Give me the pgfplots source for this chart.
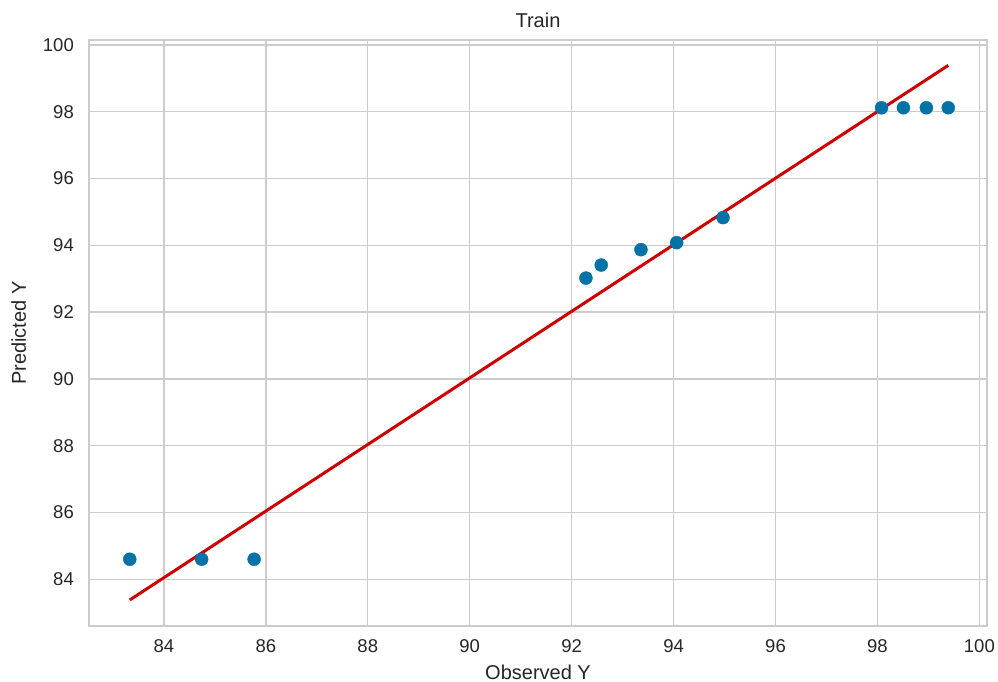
\documentclass[border=0pt]{standalone}
\usepackage{fontspec}
\setmainfont{Liberation Sans}
\usepackage{pgfplots}
\pgfplotsset{compat=1.18}
\definecolor{ptblue}{RGB}{0,114,165}
\definecolor{lnred}{RGB}{204,0,0}
\definecolor{gridgray}{RGB}{204,204,204}
\definecolor{txtgray}{RGB}{38,38,38}
\begin{document}
\begin{tikzpicture}
\begin{axis}[
  at={(0,0)}, anchor=south west,
  scale only axis, width=898pt, height=586pt,
  xmin=82.53, xmax=100.15, ymin=82.6, ymax=100.15,
  xtick={84,86,...,100}, ytick={84,86,...,100},
  grid=major,
  major grid style={gridgray, line width=1.4pt},
  axis line style={gridgray, line width=2.2pt},
  tick style={draw=none},
  ticklabel style={font=\fontsize{18.5}{22}\selectfont, text=txtgray},
  /pgf/number format/assume math mode=true,
  xticklabel style={anchor=base, yshift=-27pt},
  yticklabel style={anchor=east, inner sep=0pt, xshift=-15pt},
  title={Train},
  title style={font=\fontsize{20}{24}\selectfont, text=txtgray,
    at={(axis description cs:0.5,1)}, anchor=base, yshift=6pt},
  xlabel={Observed Y}, ylabel={Predicted Y},
  label style={font=\fontsize{20}{24}\selectfont, text=txtgray},
  xlabel style={at={(axis description cs:0.5,0)}, anchor=base, yshift=-53pt},
  ylabel style={at={(axis description cs:-0.0702,0.5)}, anchor=base},
]
\addplot[only marks, mark=*, mark size=6.5pt, mark options={fill=ptblue, draw=ptblue}] coordinates {
 (83.33,84.60) (84.74,84.60) (85.77,84.60)
 (92.28,93.02) (92.58,93.41) (93.36,93.87) (94.06,94.08) (94.97,94.83)
 (98.08,98.12) (98.51,98.12) (98.96,98.12) (99.39,98.12)
};
\addplot[lnred, line width=3pt] coordinates {(83.33,83.38) (99.39,99.39)};
\end{axis}
\pgfresetboundingbox
\path (-89pt,-56pt) rectangle (909pt,626pt);
\end{tikzpicture}
\end{document}
